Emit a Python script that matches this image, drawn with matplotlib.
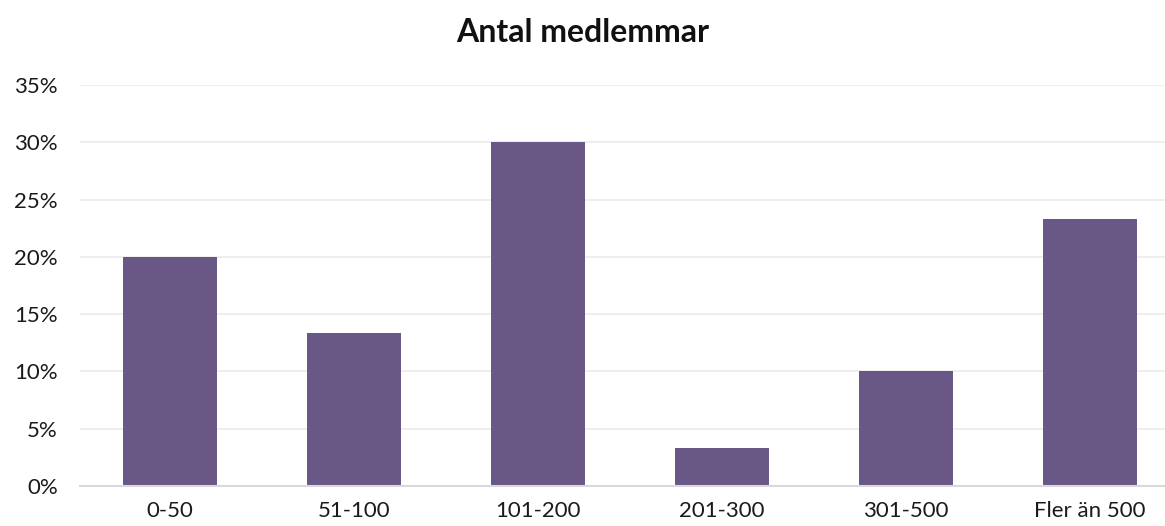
import matplotlib.pyplot as plt
from matplotlib.ticker import PercentFormatter

categories = ["0-50", "51-100", "101-200", "201-300", "301-500", "Fler än 500"]
shares = [20.0, 13.33, 30.0, 3.33, 10.0, 23.33]
y_ticks = [0, 5, 10, 15, 20, 25, 30, 35]

plt.rcParams["font.family"] = ["Lato", "DejaVu Sans"]

fig = plt.figure(figsize=(11.65, 5.26), dpi=100)
ax = fig.add_axes([80 / 1165, 40 / 526, 1085 / 1165, 401 / 526])

x = list(range(len(categories)))
ax.bar(x, shares, width=0.51, color="#695786", zorder=3)

ax.set_xlim(-0.489, 5.408)
ax.set_ylim(0, 35)
ax.set_yticks(y_ticks)
ax.yaxis.set_major_formatter(PercentFormatter(decimals=0))
ax.set_xticks(x)
ax.set_xticklabels(categories)
ax.grid(axis="y", color="#ebebeb", linewidth=1.2, zorder=0)
ax.grid(axis="x", visible=False)

for side in ["top", "right", "left"]:
    ax.spines[side].set_visible(False)
ax.spines["bottom"].set_color("#d9d9d9")
ax.spines["bottom"].set_linewidth(1.5)
ax.spines["bottom"].set_zorder(4)

ax.tick_params(axis="both", length=0, labelsize=16, colors="#1a1a1a")
ax.tick_params(axis="y", pad=16)
ax.tick_params(axis="x", pad=11)

fig.text(0.5, 1 - 32 / 526, "Antal medlemmar", ha="center", va="center",
         fontsize=23, fontweight="bold", color="#111111")

fig.savefig("out.png", dpi=100)
